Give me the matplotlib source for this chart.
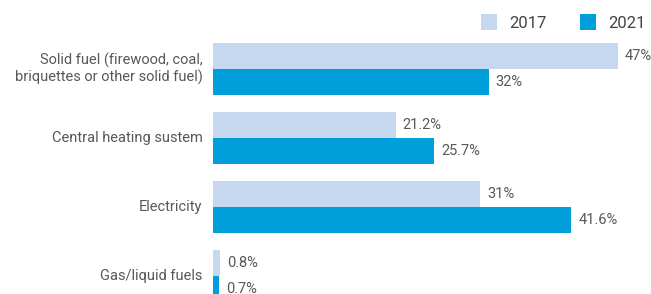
import matplotlib

matplotlib.use("Agg")
import matplotlib.pyplot as plt
import numpy as np
from matplotlib.lines import Line2D

categories = [
    "Solid fuel (firewood, coal,\nbriquettes or other solid fuel)",
    "Central heating sustem",
    "Electricity",
    "Gas/liquid fuels",
]
share_2017 = [47, 21.2, 31, 0.8]
share_2021 = [32, 25.7, 41.6, 0.7]
labels_2017 = ["47%", "21.2%", "31%", "0.8%"]
labels_2021 = ["32%", "25.7%", "41.6%", "0.7%"]

C17 = "#c5d8ef"
C21 = "#009fdb"
TXT = "#585858"

plt.rcParams["font.family"] = ["Roboto", "DejaVu Sans"]

W, H = 651, 294
fig = plt.figure(figsize=(W / 100, H / 100), dpi=100)
left_px = 213
ax = fig.add_axes([left_px / W, 0, 1 - left_px / W, 1])

px_per_unit = 8.617  # pixels per percentage point
ax.set_xlim(0, (W - left_px) / px_per_unit)
grp = 69.0  # pixels between groups
ax.set_ylim((H - 69) / grp, -1)

y = np.arange(len(categories))
bh = 0.37
ax.barh(y - bh / 2, share_2017, height=bh, color=C17, linewidth=0)
ax.barh(y + bh / 2, share_2021, height=bh, color=C21, linewidth=0)

for yi, v, lab in zip(y, share_2017, labels_2017):
    ax.annotate(lab, (v, yi - bh / 2), xytext=(5, 0), textcoords="offset points",
                ha="left", va="center", fontsize=10.5, color=TXT)
for yi, v, lab in zip(y, share_2021, labels_2021):
    ax.annotate(lab, (v, yi + bh / 2), xytext=(5, 0), textcoords="offset points",
                ha="left", va="center", fontsize=10.5, color=TXT)

for yi, cat in zip(y, categories):
    ax.annotate(cat, (0, yi), xytext=(-7.5, 0), textcoords="offset points",
                ha="right", va="center", fontsize=10.5, color=TXT,
                multialignment="right", linespacing=1.15)

ax.axis("off")

handles = [
    Line2D([0], [0], marker="s", color="w", markerfacecolor=C17,
           markeredgewidth=0, markersize=11, linestyle="none", label="2017"),
    Line2D([0], [0], marker="s", color="w", markerfacecolor=C21,
           markeredgewidth=0, markersize=11, linestyle="none", label="2021"),
]
fig.legend(handles=handles, loc="upper left", bbox_to_anchor=(464 / W, 1 - 1 / H),
           ncols=2, frameon=False, fontsize=12, labelcolor="#444444",
           handletextpad=0.6, columnspacing=1.9, handlelength=1.2)

fig.savefig("out.png", dpi=100)
